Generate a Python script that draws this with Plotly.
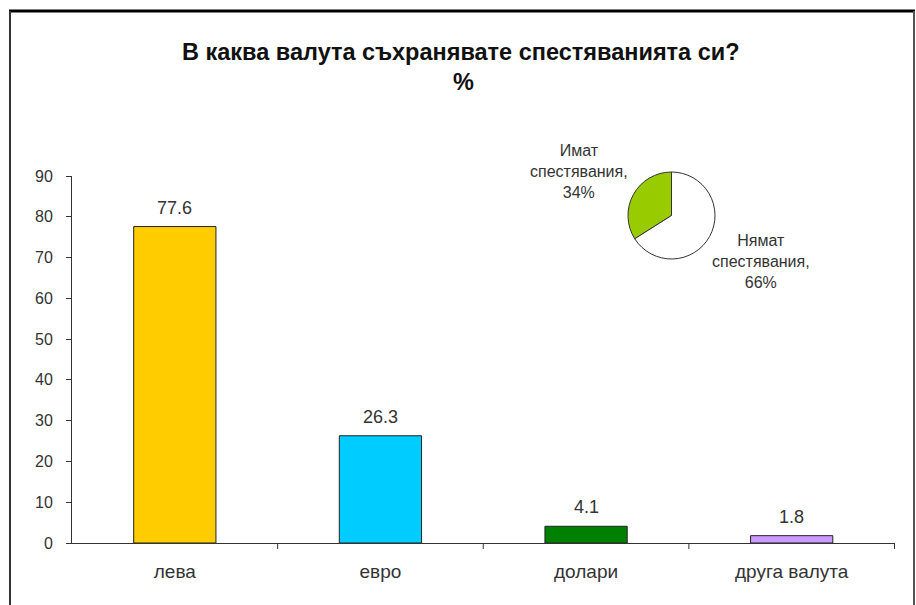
import plotly.graph_objects as go

categories = ["лева", "евро", "долари", "друга валута"]
values = [77.6, 26.3, 4.1, 1.8]
bar_colors = ["#FFCC00", "#00CCFF", "#008000", "#CC99FF"]

pie_labels = ["Имат<br>спестявания", "Нямат<br>спестявания"]
pie_values = [34, 66]
pie_colors = ["#99CC00", "#FFFFFF"]

title_text = "В каква валута съхранявате спестяванията си?"
subtitle_text = "%"
y_ticks = list(range(0, 100, 10))

W, H = 916, 605
L, R, T, B = 72, 21, 150, 62
pw, ph = W - L - R, H - T - B
plot_top = 176
FONT = "Liberation Sans, Arial"

def px(x):
    return (x - L) / pw

def py(y):
    return (H - B - y) / ph

fig = go.Figure()
fig.add_trace(go.Bar(
    x=categories, y=values,
    marker=dict(color=bar_colors, line=dict(color="#222222", width=1)),
    width=0.4,
    showlegend=False,
))

# value labels above bars
for c, v in zip(categories, values):
    fig.add_annotation(x=c, y=v, xref="x", yref="y", text=f"{v:.1f}",
                       showarrow=False, yanchor="bottom", yshift=7,
                       font=dict(family=FONT, size=18, color="#333333"))

# first slice drawn to the left of 12 o'clock, going clockwise up to 12
pie_rotation = -360 * pie_values[0] / sum(pie_values)
fig.add_trace(go.Pie(
    labels=pie_labels, values=pie_values,
    marker=dict(colors=pie_colors, line=dict(color="#333333", width=1)),
    sort=False, direction="clockwise", rotation=pie_rotation,
    textinfo="none", hoverinfo="label+percent",
    domain=dict(x=[px(627), px(716)], y=[py(259), py(172)]),
    showlegend=False,
))

fig.update_layout(
    width=W, height=H,
    margin=dict(l=L, r=R, t=T, b=B),
    paper_bgcolor="white", plot_bgcolor="white",
    font=dict(family=FONT, size=14, color="#333333"),
    xaxis=dict(
        showline=True, linecolor="#333333", linewidth=1,
        ticks="", tickfont=dict(size=19, color="#333333"),
        ticklabelstandoff=11,
        showgrid=False, zeroline=False,
    ),
    yaxis=dict(
        domain=[0, py(plot_top)],
        range=[0, 90], tickvals=y_ticks,
        showline=True, linecolor="#333333", linewidth=1,
        ticks="outside", ticklen=5, tickcolor="#333333",
        ticklabelstandoff=10,
        tickfont=dict(size=16, color="#333333"), showgrid=False, zeroline=False,
    ),
)

# category separator ticks on x axis
for i in range(1, len(categories) + 1):
    fig.add_shape(type="line", xref="x", yref="paper",
                  x0=i - 0.5, x1=i - 0.5, y0=0, y1=-6 / ph,
                  line=dict(color="#333333", width=1))

# title
fig.add_annotation(text="<b>" + title_text + "</b>", xref="paper", yref="paper",
                   x=px(461), y=py(52), showarrow=False,
                   font=dict(family=FONT, size=23.5, color="#111111"),
                   xanchor="center", yanchor="middle")
fig.add_annotation(text="<b>" + subtitle_text + "</b>", xref="paper", yref="paper",
                   x=px(463), y=py(82), showarrow=False,
                   font=dict(family=FONT, size=23.5, color="#111111"),
                   xanchor="center", yanchor="middle")

# pie labels
pie_label_pos = [(579, 171), (761, 261)]
for lab, val, (x0, y0) in zip(pie_labels, pie_values, pie_label_pos):
    fig.add_annotation(text=f"{lab},<br>{val}%", xref="paper", yref="paper",
                       x=px(x0), y=py(y0), showarrow=False,
                       font=dict(family=FONT, size=16, color="#333333"),
                       xanchor="center", yanchor="middle", align="center")

# frame
fig.add_shape(type="line", xref="paper", yref="paper",
              x0=px(9), x1=px(915), y0=py(11), y1=py(11),
              line=dict(color="#000000", width=3))
fig.add_shape(type="line", xref="paper", yref="paper",
              x0=px(10), x1=px(10), y0=py(11), y1=py(610),
              line=dict(color="#333333", width=2))
fig.add_shape(type="line", xref="paper", yref="paper",
              x0=px(914), x1=px(914), y0=py(11), y1=py(610),
              line=dict(color="#555555", width=2))

fig.write_html("out.html",
               config={"displayModeBar": False},
               post_script="document.body.style.margin='0';document.body.style.padding='0';")
